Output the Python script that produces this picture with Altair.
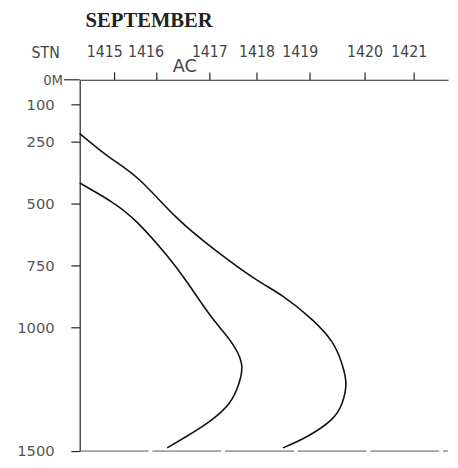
import altair as alt
import pandas as pd

# Stations along the section (distance units along the top axis)
stations = ["1415", "1416", "1417", "1418", "1419", "1420", "1421"]
station_dist = [35, 78, 132, 180, 234, 290, 340]

# Depth tick values (m)
depth_ticks = [100, 250, 500, 750, 1000, 1500]

# Contour lines (distance, depth m)
inner_dist = [0, 32, 59, 89, 109, 130, 145, 158, 165, 162, 152, 132, 109, 89]
inner_depth = [417, 492, 578, 711, 816, 936, 1012, 1082, 1155, 1228, 1308, 1381, 1440, 1487]
outer_dist = [0, 30, 61, 99, 139, 177, 207, 236, 257, 267, 271, 267, 256, 232, 207]
outer_depth = [217, 312, 405, 558, 691, 800, 875, 967, 1060, 1148, 1228, 1308, 1374, 1440, 1487]

rows = []
for i, (d, z) in enumerate(zip(inner_dist, inner_depth)):
    rows.append({"line": "inner", "dist": d, "depth": z, "ord": i})
for i, (d, z) in enumerate(zip(outer_dist, outer_depth)):
    rows.append({"line": "outer", "dist": d, "depth": z, "ord": i})
df = pd.DataFrame(rows)

label_expr = " : ".join(f"datum.value == {d} ? '{s}'" for d, s in zip(station_dist, stations)) + " : ''"

xscale = alt.Scale(domain=[0, 375], nice=False, zero=False)
yscale = alt.Scale(domain=[0, 1500], reverse=True, nice=False, zero=False)

narrow = "DejaVu Sans Condensed, Liberation Sans, sans-serif"

xaxis = alt.Axis(orient="top", values=station_dist, labelExpr=label_expr, title=None,
                 grid=False, tickSize=8, labelPadding=13, labelFont=narrow,
                 labelFontSize=16, labelColor="#444", domainColor="#222", tickColor="#222",
                 domainWidth=1.2, tickWidth=1.2, labelAngle=0,
                 labelOffset={"condition": [
                     {"test": "datum.value == 35", "value": -10},
                     {"test": "datum.value == 78", "value": -11},
                     {"test": "datum.value == 234", "value": -10},
                     {"test": "datum.value == 340", "value": -5},
                 ], "value": 0})
yaxis = alt.Axis(orient="left", values=depth_ticks, format="d", title=None,
                 grid=False, tickSize=9, labelPadding=17, labelFont="DejaVu Sans",
                 labelFontSize=15, labelColor="#555", domainColor="#222", tickColor="#222",
                 domainWidth=1.2, tickWidth=1.2)

lines = alt.Chart(df).mark_line(interpolate="natural", color="#111", strokeWidth=1.6).encode(
    x=alt.X("dist:Q", scale=xscale, axis=xaxis),
    y=alt.Y("depth:Q", scale=yscale, axis=yaxis),
    detail="line:N",
    order="ord:Q",
)

bottom = alt.Chart(pd.DataFrame({"a": [0]})).mark_rule(color="#555", strokeWidth=1, strokeDash=[70, 4]).encode(
    x=alt.datum(0, scale=xscale), x2=alt.datum(375), y=alt.datum(1500, scale=yscale)
)

zero_tick = alt.Chart(pd.DataFrame({"a": [0]})).mark_rule(color="#222", strokeWidth=1.2).encode(
    x=alt.value(-16), x2=alt.value(0), y=alt.datum(0, scale=yscale)
)

title = alt.Chart(pd.DataFrame({"t": ["SEPTEMBER"]})).mark_text(
    align="left", baseline="alphabetic", font="Liberation Serif", fontSize=21,
    fontWeight="bold", color="#222"
).encode(text="t:N", x=alt.value(6), y=alt.value(-54))

stn = alt.Chart(pd.DataFrame({"t": ["STN"]})).mark_text(
    align="left", baseline="alphabetic", font=narrow, fontSize=16, color="#444"
).encode(text="t:N", x=alt.value(-49), y=alt.value(-22))

zero_lbl = alt.Chart(pd.DataFrame({"t": ["0M"]})).mark_text(
    align="right", baseline="alphabetic", font=narrow, fontSize=15, color="#555"
).encode(text="t:N", x=alt.value(-17), y=alt.value(5))

ac = alt.Chart(pd.DataFrame({"t": ["AC"]})).mark_text(
    align="center", baseline="alphabetic", font="DejaVu Sans", fontSize=18, color="#444"
).encode(text="t:N", x=alt.value(107), y=alt.value(-8))

chart = alt.layer(lines, bottom, zero_tick, title, stn, zero_lbl, ac).properties(
    width=375, height=378,
    autosize=alt.AutoSizeParams(type="none"),
    padding={"left": 73, "top": 69, "right": 2, "bottom": 5},
    background="white",
).configure_view(stroke=None)

chart.save("out.html", embed_options={"renderer": "svg", "actions": False})
